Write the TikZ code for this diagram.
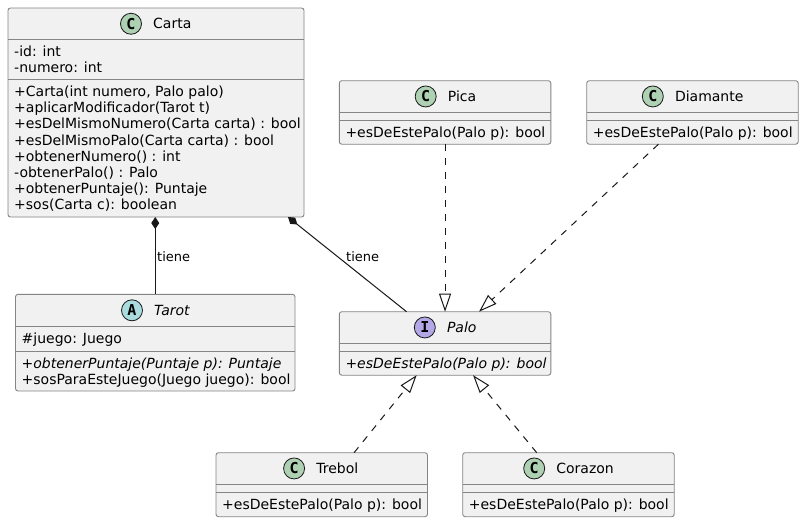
\documentclass[tikz,border=0pt]{standalone}
\usepackage{fontspec}
\setmainfont{DejaVu Sans}
\newfontfamily\circfont{DejaVu Sans Mono}
\usetikzlibrary{arrows.meta,calc}
\definecolor{boxfill}{HTML}{F1F1F1}
\definecolor{ink}{HTML}{181818}
\definecolor{boxline}{HTML}{858585}
\definecolor{cclass}{HTML}{ADD1B2}
\definecolor{cabs}{HTML}{A9DCDF}
\definecolor{cint}{HTML}{B4A7E5}
\begin{document}
\begin{tikzpicture}[x=1pt,y=-1pt,
  classbox/.style={draw=boxline, line width=0.9pt, fill=boxfill, rounded corners=2.5pt,
    anchor=north west, inner sep=0pt, outer sep=0pt},
  sepline/.style={draw=boxline, line width=0.9pt},
  member/.style={anchor=base west, inner sep=0pt, font=\fontsize{14}{16}\selectfont, text=black},
  imember/.style={member, font=\fontsize{14}{16}\selectfont\itshape},
  title/.style={member},
  ititle/.style={imember},
  circ/.style={circle, draw=ink, line width=0.8pt, minimum size=21pt, inner sep=0pt,
    font=\circfont\bfseries\fontsize{15}{15}\selectfont},
  lbl/.style={anchor=base west, inner sep=0pt, font=\fontsize{13}{15}\selectfont},
  comp/.style={draw=ink, line width=1pt, {Diamond[length=12pt,width=8pt]}-},
  real/.style={draw=ink, line width=1pt, dash pattern=on 7pt off 7pt,
    -{Triangle[open,length=18pt,width=12pt]}}
]
\useasboundingbox[fill=white] (0,0) rectangle (804,523);

% ---------- Carta ----------
\node[classbox, minimum width=296pt, minimum height=209pt] (carta) at (8,8) {};
\draw[sepline] ([yshift=-31.5pt]carta.north west) -- ([yshift=-31.5pt]carta.north east);
\draw[sepline] ([yshift=-71.5pt]carta.north west) -- ([yshift=-71.5pt]carta.north east);
\node[circ, fill=cclass] (cartaC) at (131,23.75) {C};
\node[title] (cartaT) at (153,28.85) {Carta};
\node[member] (ca1) at (14,56.5) {-id: int};
\node[member] (ca2) at (14,72.7) {-numero: int};
\node[member] (cm1) at (14,96.5) {+Carta(int numero, Palo palo)};
\node[member] (cm2) at (14,112.7) {+aplicarModificador(Tarot t)};
\node[member] (cm3) at (14,128.9) {+esDelMismoNumero(Carta carta) : bool};
\node[member] (cm4) at (14,145.1) {+esDelMismoPalo(Carta carta) : bool};
\node[member] (cm5) at (14,161.3) {+obtenerNumero() : int};
\node[member] (cm6) at (14,177.5) {-obtenerPalo() : Palo};
\node[member] (cm7) at (14,193.7) {+obtenerPuntaje(): Puntaje};
\node[member] (cm8) at (14,209.9) {+sos(Carta c): boolean};

% ---------- Tarot ----------
\node[classbox, minimum width=279.5pt, minimum height=96.7pt] (tarot) at (15.5,294.3) {};
\draw[sepline] ([yshift=-32pt]tarot.north west) -- ([yshift=-32pt]tarot.north east);
\draw[sepline] ([yshift=-57.4pt]tarot.north west) -- ([yshift=-57.4pt]tarot.north east);
\node[circ, fill=cabs] (tarotC) at (132,310.3) {A};
\node[ititle] (tarotT) at (154,315.4) {Tarot};
\node[member] (ta1) at (21.5,343.3) {\#juego: Juego};
\node[imember] (tm1) at (21.5,368.7) {+obtenerPuntaje(Puntaje p): Puntaje};
\node[member] (tm2) at (21.5,384.9) {+sosParaEsteJuego(Juego juego): bool};

% ---------- Palo ----------
\node[classbox, minimum width=211.5pt, minimum height=63.5pt] (palo) at (339.3,311.7) {};
\draw[sepline] ([yshift=-31.5pt]palo.north west) -- ([yshift=-31.5pt]palo.north east);
\draw[sepline] ([yshift=-39.5pt]palo.north west) -- ([yshift=-39.5pt]palo.north east);
\node[circ, fill=cint] (paloC) at (424.8,327.45) {I};
\node[ititle] (paloT) at (446.8,332.55) {Palo};
\node[imember] (pm1) at (345.3,368.2) {+esDeEstePalo(Palo p): bool};

% ---------- Pica ----------
\node[classbox, minimum width=211.5pt, minimum height=63.5pt] (pica) at (339.3,80.7) {};
\draw[sepline] ([yshift=-31.5pt]pica.north west) -- ([yshift=-31.5pt]pica.north east);
\draw[sepline] ([yshift=-39.5pt]pica.north west) -- ([yshift=-39.5pt]pica.north east);
\node[circ, fill=cclass] (picaC) at (425.7,96.45) {C};
\node[title] (picaT) at (447.7,101.55) {Pica};
\node[member] (pim1) at (345.3,137.2) {+esDeEstePalo(Palo p): bool};

% ---------- Diamante ----------
\node[classbox, minimum width=211.5pt, minimum height=63.5pt] (diamante) at (586.7,80.7) {};
\draw[sepline] ([yshift=-31.5pt]diamante.north west) -- ([yshift=-31.5pt]diamante.north east);
\draw[sepline] ([yshift=-39.5pt]diamante.north west) -- ([yshift=-39.5pt]diamante.north east);
\node[circ, fill=cclass] (diamanteC) at (652.8,96.45) {C};
\node[title] (diamanteT) at (674.8,101.55) {Diamante};
\node[member] (dm1) at (592.7,137.2) {+esDeEstePalo(Palo p): bool};

% ---------- Trebol ----------
\node[classbox, minimum width=211.5pt, minimum height=64pt] (trebol) at (216,452.7) {};
\draw[sepline] ([yshift=-31.5pt]trebol.north west) -- ([yshift=-31.5pt]trebol.north east);
\draw[sepline] ([yshift=-39.8pt]trebol.north west) -- ([yshift=-39.8pt]trebol.north east);
\node[circ, fill=cclass] (trebolC) at (294.1,468.45) {C};
\node[title] (trebolT) at (316.1,473.55) {Trebol};
\node[member] (trm1) at (222,509.4) {+esDeEstePalo(Palo p): bool};

% ---------- Corazon ----------
\node[classbox, minimum width=211.5pt, minimum height=64pt] (corazon) at (462.7,452.7) {};
\draw[sepline] ([yshift=-31.5pt]corazon.north west) -- ([yshift=-31.5pt]corazon.north east);
\draw[sepline] ([yshift=-39.8pt]corazon.north west) -- ([yshift=-39.8pt]corazon.north east);
\node[circ, fill=cclass] (corazonC) at (534.2,468.45) {C};
\node[title] (corazonT) at (556.2,473.55) {Corazon};
\node[member] (com1) at (468.7,509.4) {+esDeEstePalo(Palo p): bool};

% ---------- Connectors ----------
\draw[comp] (carta.south -| tarot.north) -- (tarot.north);
\draw[comp] ([xshift=280pt]carta.south west) -- ([xshift=-38.5pt]palo.north);
\node[lbl] (l1) at (157,261.5) {tiene};
\node[lbl] (l2) at (346,261.5) {tiene};

\draw[real] (pica.south) -- (palo.north);
\draw[real] ([xshift=-34pt]diamante.south) -- ([xshift=34pt]palo.north);
\draw[real] ([xshift=32.3pt]trebol.north) -- ([xshift=-28.4pt]palo.south);
\draw[real] ([xshift=-31.7pt]corazon.north) -- ([xshift=28pt]palo.south);
\end{tikzpicture}
\end{document}
